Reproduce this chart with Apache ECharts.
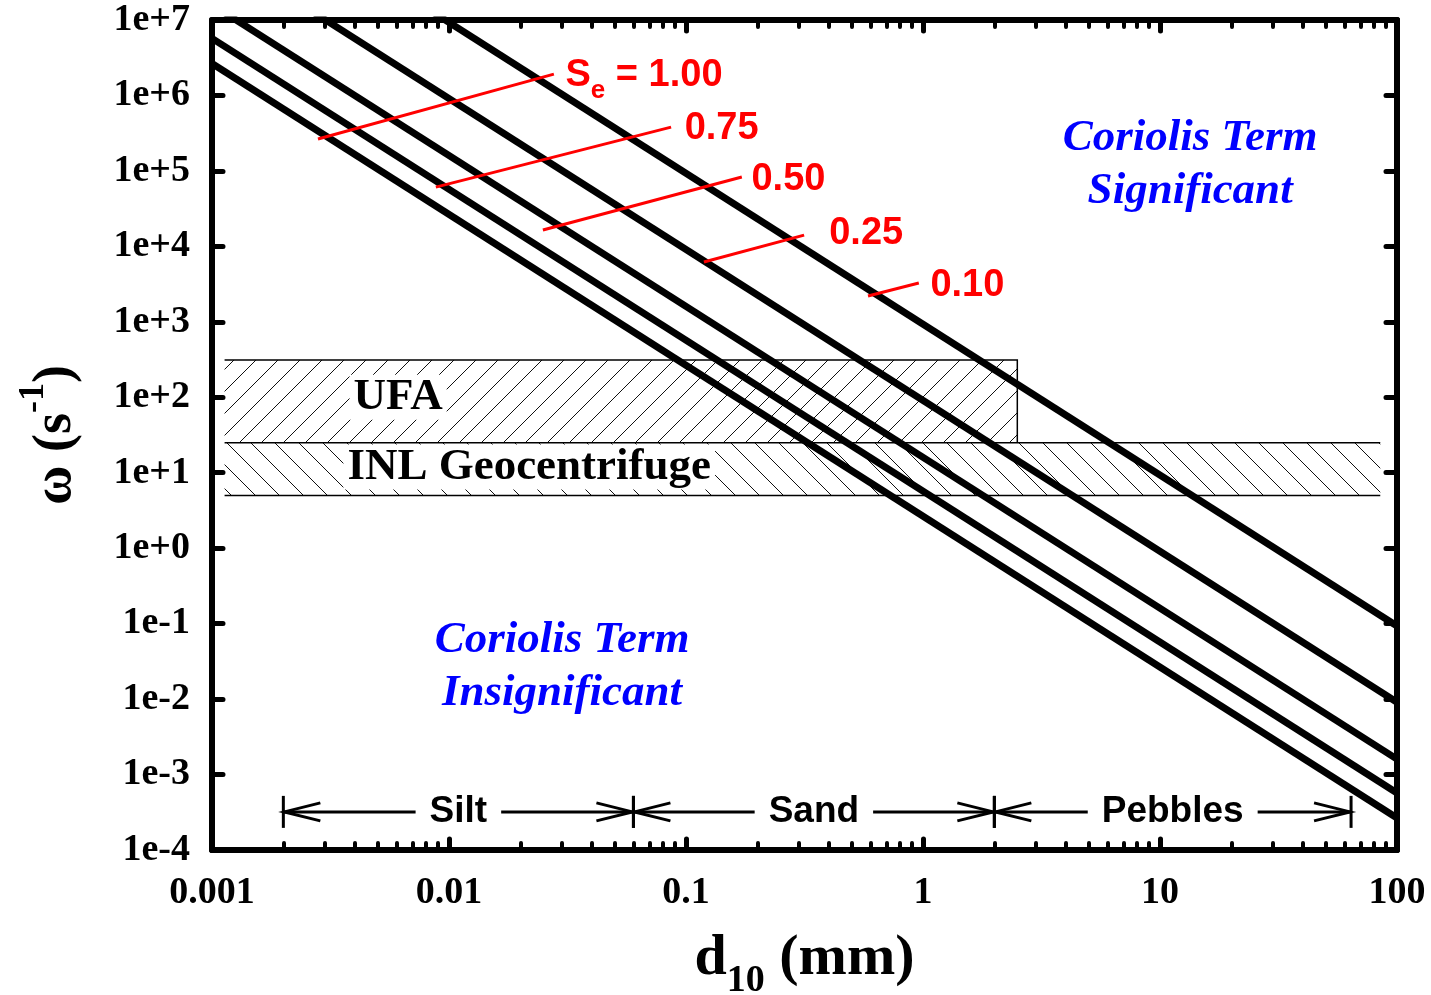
<!DOCTYPE html>
<html>
<head>
<meta charset="utf-8">
<script src="https://cdn.jsdelivr.net/npm/echarts@6/dist/echarts.min.js"></script>
<style>
  html, body { margin: 0; padding: 0; background: #fff; }
  #chart { width: 1431px; height: 995px; }
</style>
</head>
<body>
<div id="chart"></div>
<script>
// d10 (mm) at the two ends of every curve
const dEnds = [0.001, 100]
// omega (1/s) at d = 0.001 and d = 100, one array per saturation Se
const omegaSe010 = [9.3e8, 0.093]
const omegaSe025 = [9.1e7, 0.0091]
const omegaSe050 = [1.6e7, 0.0016]
const omegaSe075 = [5.7e6, 5.7e-4]
const omegaSe100 = [2.65e6, 2.65e-4]

// red leaders, from curve to label  [d, omega]
const leaderLabels = ['1.00', '0.75', '0.50', '0.25', '0.10']
const leaderFrom = [[0.0028, 2.65e5], [0.0088, 6.1e4], [0.0249, 1.65e4], [0.119, 6.2e3], [0.586, 2.2e3]]
const leaderTo = [[0.0277, 1.92e6], [0.0865, 3.8e5], [0.172, 8.3e4], [0.315, 1.41e4], [0.96, 3.27e3]]
const leaderGap = [12, 14, 10, 26, 12]

// centrifuge bands
const ufaD = [0.00113, 2.5]
const ufaOmega = [25, 312]
const inlD = [0.00113, 85]
const inlOmega = [5, 25]
const bandNames = ['UFA', 'INL Geocentrifuge']
const bandLabelD = [0.0061, 0.0218]
const bandLabelOmega = [100, 11.9]

// region notes
const noteText = ['Coriolis Term\nSignificant', 'Coriolis Term\nInsignificant']
const noteD = [13.4, 0.030]
const noteOmega = [1.2e5, 0.027]

// grain size classes
const sizeBounds = [0.002, 0.06, 2, 64]
const sizeNames = ['Silt', 'Sand', 'Pebbles']
const sizeRowOmega = 3.2e-4

// axes
const xTickValues = [0.001, 0.01, 0.1, 1, 10, 100]
const yTickExp = [-4, -3, -2, -1, 0, 1, 2, 3, 4, 5, 6, 7]

const L = v => Math.log10(v)
const SERIF = '"Liberation Serif", "Times New Roman", serif'
const SANS = '"Liberation Sans", Arial, sans-serif'

// minor ticks 2..9 in every decade
const xMinor = []
xTickValues.slice(0, -1).forEach(dec => {
  for (let k = 2; k <= 9; k++) xMinor.push(L(k * dec))
})

function hatch(size, dir) {
  const c = document.createElement('canvas')
  c.width = size
  c.height = size
  const g = c.getContext('2d')
  g.strokeStyle = '#111'
  g.lineWidth = 1
  g.beginPath()
  if (dir > 0) {
    g.moveTo(-2, size + 2); g.lineTo(size + 2, -2)
  } else {
    g.moveTo(-2, -2); g.lineTo(size + 2, size + 2)
  }
  g.stroke()
  return c
}

const chart = echarts.init(document.getElementById('chart'))

const frameLine = { show: true, onZero: false, lineStyle: { color: '#000', width: 6, cap: 'round' } }
const majorTick = { show: true, inside: true, length: 11, lineStyle: { color: '#000', width: 5, cap: 'round' } }
const minorTick = { show: true, inside: true, length: 7, customValues: xMinor, lineStyle: { color: '#000', width: 4, cap: 'round' } }

function xAxisOf(position, isMinor) {
  return {
    type: 'value', position, min: L(dEnds[0]), max: L(dEnds[1]), interval: 1,
    axisLine: isMinor ? { show: false, onZero: false } : frameLine,
    axisTick: isMinor ? minorTick : majorTick,
    axisLabel: { show: false },
    splitLine: { show: false }
  }
}

const xAxes = [xAxisOf('bottom', false), xAxisOf('bottom', true), xAxisOf('top', false), xAxisOf('top', true)]
xAxes[0].axisLabel = {
  show: true, margin: 24, color: '#000', fontFamily: SERIF, fontWeight: 'bold', fontSize: 38,
  formatter: v => String(Number(Math.pow(10, v).toPrecision(1)))
}
xAxes[0].name = '{m|d}{s|10}{m| (mm)}'
xAxes[0].nameLocation = 'middle'
xAxes[0].nameGap = 68
xAxes[0].nameTextStyle = {
  color: '#000',
  rich: {
    m: { fontFamily: SERIF, fontWeight: 'bold', fontSize: 58, color: '#000' },
    s: { fontFamily: SERIF, fontWeight: 'bold', fontSize: 38, color: '#000', padding: [44, 0, 0, 0] }
  }
}

const yAxes = [
  {
    type: 'value', position: 'left', min: yTickExp[0], max: yTickExp[yTickExp.length - 1], interval: 1,
    axisLine: frameLine, axisTick: majorTick, splitLine: { show: false },
    axisLabel: {
      margin: 22, color: '#000', fontFamily: SERIF, fontWeight: 'bold', fontSize: 38,
      formatter: v => '1e' + (v >= 0 ? '+' : '') + Math.round(v)
    },
    name: '{m|\u03c9 (s}{p|-1}{m|)}',
    nameLocation: 'middle', nameRotate: 90, nameGap: 116,
    nameTextStyle: {
      color: '#000',
      rich: {
        m: { fontFamily: SERIF, fontWeight: 'bold', fontSize: 54, color: '#000' },
        p: { fontFamily: SERIF, fontWeight: 'bold', fontSize: 36, color: '#000', padding: [0, 0, 44, 0] }
      }
    }
  },
  {
    type: 'value', position: 'right', min: yTickExp[0], max: yTickExp[yTickExp.length - 1], interval: 1,
    axisLine: frameLine, axisTick: majorTick, axisLabel: { show: false }, splitLine: { show: false }
  }
]

const curves = [omegaSe010, omegaSe025, omegaSe050, omegaSe075, omegaSe100]
const curveSeries = curves.map(c => ({
  type: 'line', z: 3, symbol: 'none', silent: true,
  data: dEnds.map((d, i) => [L(d), L(c[i])]),
  lineStyle: { color: '#000', width: 7 }
}))

const option = {
  animation: false,
  grid: { left: 212, top: 20, width: 1185, height: 830, outerBoundsMode: 'none', containLabel: false },
  xAxis: xAxes,
  yAxis: yAxes,
  series: [
    // band outlines
    {
      type: 'lines', coordinateSystem: 'cartesian2d', polyline: true, silent: true, z: 2,
      lineStyle: { color: '#000', width: 1.5, opacity: 1 },
      data: [
        { coords: [[L(ufaD[0]), L(ufaOmega[1])], [L(ufaD[1]), L(ufaOmega[1])], [L(ufaD[1]), L(ufaOmega[0])]] },
        { coords: [[L(inlD[0]), L(inlOmega[1])], [L(inlD[1]), L(inlOmega[1])]] },
        { coords: [[L(inlD[0]), L(inlOmega[0])], [L(inlD[1]), L(inlOmega[0])]] }
      ]
    },
    // band names + hatching
    {
      type: 'scatter', symbolSize: 0, silent: true, z: 2,
      itemStyle: { opacity: 1 },
      data: bandNames.map((n, i) => ({ name: n, value: [L(bandLabelD[i]), L(bandLabelOmega[i])] })),
      label: {
        show: true, position: 'inside', formatter: p => p.name,
        fontFamily: SERIF, fontWeight: 'bold', fontSize: 45, color: '#000',
        backgroundColor: '#fff', padding: [0, 4]
      },
      markArea: {
        silent: true,
        data: [
          [{ xAxis: L(ufaD[0]), yAxis: L(ufaOmega[0]), itemStyle: { color: { image: hatch(22, 1), repeat: 'repeat' }, opacity: 1 } },
           { xAxis: L(ufaD[1]), yAxis: L(ufaOmega[1]) }],
          [{ xAxis: L(inlD[0]), yAxis: L(inlOmega[0]), itemStyle: { color: { image: hatch(24, -1), repeat: 'repeat' }, opacity: 1 } },
           { xAxis: L(inlD[1]), yAxis: L(inlOmega[1]) }]
        ]
      }
    },
    ...curveSeries,
    // red leaders with Se labels
    {
      type: 'lines', coordinateSystem: 'cartesian2d', silent: true, z: 4,
      lineStyle: { color: '#ff0000', width: 3, opacity: 1 },
      data: leaderLabels.map((t, i) => ({
        name: t,
        coords: [[L(leaderFrom[i][0]), L(leaderFrom[i][1])], [L(leaderTo[i][0]), L(leaderTo[i][1])]],
        label: { distance: leaderGap[i] }
      })),
      label: {
        show: true, position: 'end', offset: [0, 5],
        formatter: p => p.dataIndex === 0 ? '{s|S}{e|e}{s| = ' + p.name + '}' : '{s|' + p.name + '}',
        rich: {
          s: { fontFamily: SANS, fontWeight: 'bold', fontSize: 38, color: '#ff0000' },
          e: { fontFamily: SANS, fontWeight: 'bold', fontSize: 26, color: '#ff0000', padding: [30, 0, 0, 0] }
        }
      }
    },
    // region notes
    {
      type: 'scatter', symbolSize: 0, silent: true, z: 5,
      itemStyle: { opacity: 1 },
      data: noteText.map((t, i) => ({ name: t, value: [L(noteD[i]), L(noteOmega[i])] })),
      label: {
        show: true, position: 'inside', formatter: p => p.name, align: 'center',
        fontFamily: SERIF, fontStyle: 'italic', fontWeight: 'bold', fontSize: 45, lineHeight: 53, color: '#0000ff'
      }
    },
    // grain size ruler
    {
      type: 'custom', silent: true, z: 5,
      encode: { x: [0, 1], y: 2 },
      data: sizeNames.map((n, i) => [L(sizeBounds[i]), L(sizeBounds[i + 1]), L(sizeRowOmega)]),
      renderItem: (params, api) => {
        const lo = api.coord([api.value(0), api.value(2)])
        const hi = api.coord([api.value(1), api.value(2)])
        const y = lo[1]
        const st = { stroke: '#000', lineWidth: 3, fill: null }
        return {
          type: 'group',
          children: [
            { type: 'line', shape: { x1: lo[0], y1: y, x2: hi[0], y2: y }, style: st },
            { type: 'line', shape: { x1: lo[0], y1: y - 16, x2: lo[0], y2: y + 16 }, style: st },
            { type: 'line', shape: { x1: hi[0], y1: y - 16, x2: hi[0], y2: y + 16 }, style: st },
            { type: 'polyline', shape: { points: [[lo[0] + 37, y - 9], [lo[0] + 1, y], [lo[0] + 37, y + 9]] }, style: st },
            { type: 'polyline', shape: { points: [[hi[0] - 37, y - 9], [hi[0] - 1, y], [hi[0] - 37, y + 9]] }, style: st },
            {
              type: 'text', x: (lo[0] + hi[0]) / 2, y: y,
              style: {
                text: sizeNames[params.dataIndex], fill: '#000',
                font: 'bold 37px ' + SANS,
                align: 'center', verticalAlign: 'middle', textAlign: 'center', textVerticalAlign: 'middle',
                backgroundColor: '#fff', padding: [0, 14]
              }
            }
          ]
        }
      }
    }
  ]
}

chart.setOption(option)
</script>
</body>
</html>
